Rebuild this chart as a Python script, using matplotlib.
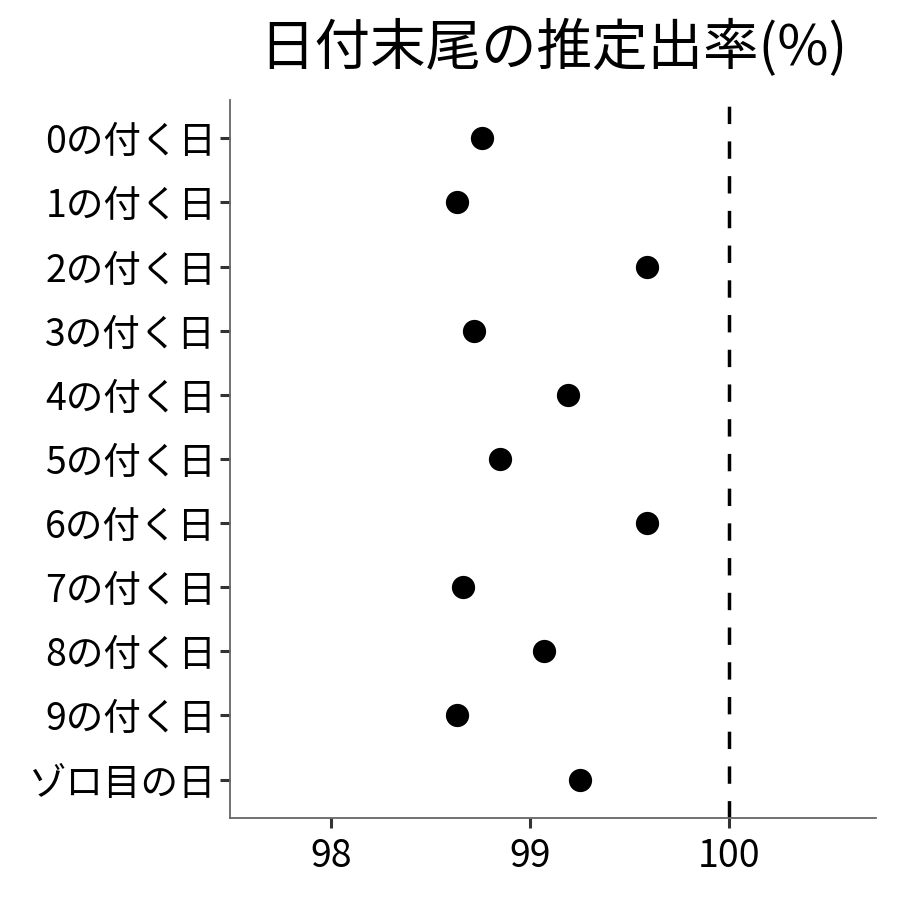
import matplotlib.pyplot as plt

plt.rcParams['font.family'] = ['Noto Sans CJK JP', 'DejaVu Sans']

categories = ["0の付く日", "1の付く日", "2の付く日", "3の付く日", "4の付く日",
              "5の付く日", "6の付く日", "7の付く日", "8の付く日", "9の付く日",
              "ゾロ目の日"]
rates = [98.76, 98.63, 99.59, 98.72, 99.19, 98.85, 99.59, 98.66, 99.07, 98.63, 99.25]
xticks = [98, 99, 100]
ref_line = 100

fig = plt.figure(figsize=(9, 9), dpi=100)
ax = fig.add_axes([0.2556, 0.0911, 0.7177, 0.7979])

ypos = list(range(len(categories)))
ax.scatter(rates, ypos, s=280, color='black', zorder=3, linewidths=0)
ax.axvline(ref_line, color='black', linewidth=2.5, linestyle=(0, (5, 5)), zorder=2)

ax.set_xlim(97.49, 100.74)
ax.set_ylim(len(categories) - 0.4, -0.6)
ax.set_yticks(ypos)
ax.set_yticklabels(categories)
ax.set_xticks(xticks)
ax.set_xticklabels([str(t) for t in xticks])

for s in ['top', 'right']:
    ax.spines[s].set_visible(False)
for s in ['left', 'bottom']:
    ax.spines[s].set_color('#666666')
    ax.spines[s].set_linewidth(1.3)

ax.tick_params(axis='both', length=7, width=2.2, color='#333333',
               labelsize=27, labelcolor='black')
ax.tick_params(axis='y', pad=3)
ax.tick_params(axis='x', pad=7)

ax.set_title("日付末尾の推定出率(%)", fontsize=40, pad=25)

fig.savefig("out.png", dpi=100)
